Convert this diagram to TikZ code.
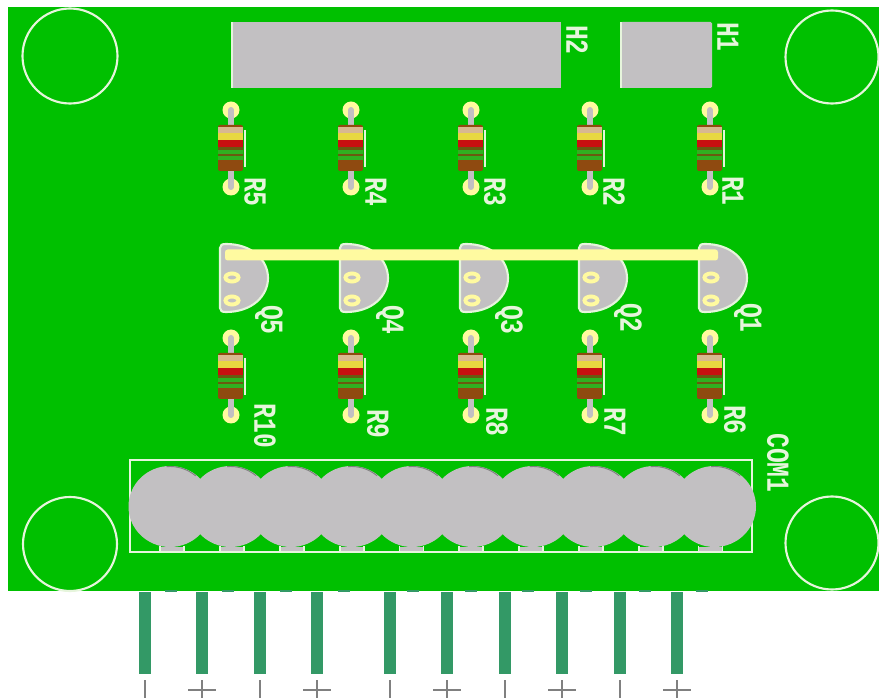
\documentclass[tikz,border=0pt]{standalone}
\usepackage{fontspec}
\setmainfont{Liberation Mono}

\definecolor{board}{HTML}{00C000}
\definecolor{silk}{HTML}{E6F5DC}
\definecolor{padgrey}{HTML}{C2C0C2}
\definecolor{padyellow}{HTML}{FFFAA0}
\definecolor{pingreen}{HTML}{339966}
\definecolor{bandtan}{HTML}{D8B890}
\definecolor{bandbrown}{HTML}{8F4A10}
\definecolor{bandred}{HTML}{C81010}
\definecolor{bandyellow}{HTML}{E8D840}
\definecolor{bandgreen}{HTML}{30B020}
\definecolor{bandolive}{HTML}{6A5A10}

\tikzset{
  silkline/.style={draw=silk,line width=1.6pt},
  silktext/.style={text=silk,font=\fontsize{18.5}{18.5}\selectfont\bfseries,rotate=-90,yscale=1.3,inner sep=0pt},
  greyblock/.style={fill=padgrey},
}

% one resistor, top pad at (0,0)
\newcommand{\resbody}{
  \fill[padyellow] (0,0) circle (8.5);
  \fill[padyellow] (0,77) circle (8.5);
  \draw[padgrey,line width=4.5pt,line cap=round] (0,0) -- (0,77);
  \fill[bandbrown,rounded corners=1.5pt] (-13,15) rectangle (12,61);
  \fill[bandtan] (-13,17) rectangle (12,23);
  \fill[bandyellow] (-13,23) rectangle (12,30);
  \fill[bandred] (-13,30) rectangle (12,37);
  \fill[bandolive] (-13,37) rectangle (12,40);
  \fill[bandgreen] (-13,40) rectangle (12,50);
  \fill[bandolive] (-13,44.5) rectangle (12,46);
  \draw[silk,line width=1pt] (14,20) -- (14,57);
}

\begin{document}
\begin{tikzpicture}[x=0.75pt,y=-0.75pt]
  \useasboundingbox (0,0) rectangle (879,698);
  \fill[white] (0,0) rectangle (879,698);

  \fill[board] (8,7) rectangle (879,591);

  % mounting holes
  \draw[silkline] (70,56) circle (47.5);
  \draw[silkline] (832,57) circle (46.5);
  \draw[silkline] (70,544) circle (47);
  \draw[silkline] (832,543) circle (46.5);

  % headers
  \fill[greyblock] (232,22) rectangle (561,88);
  \draw[silk,line width=1.2pt] (232,88) -- (232,22);
  \fill[greyblock,rounded corners=1pt] (621,22) rectangle (712,88);
  \draw[silkline] (621,22) -- (621,88);
  \node[silktext] (h2) at (577,40) {H2};
  \node[silktext] (h1) at (728,37) {H1};

  \foreach \x in {231,351,471,590,710}{
    \begin{scope}[shift={(\x,110)}]
      \resbody
    \end{scope}
    \begin{scope}[shift={(\x,338)}]
      \resbody
    \end{scope}
  }
  \node[silktext] (r5) at (255,192) {R5};
  \node[silktext] (r4) at (376,192) {R4};
  \node[silktext] (r3) at (495,192) {R3};
  \node[silktext] (r2) at (614,192) {R2};
  \node[silktext] (r1) at (733,191) {R1};
  \node[silktext] (r10) at (265,426) {R10};
  \node[silktext] (r9) at (378,424) {R9};
  \node[silktext] (r8) at (497,422) {R8};
  \node[silktext] (r7) at (615,422) {R7};
  \node[silktext] (r6) at (735,420) {R6};

  % transistors
  \foreach \x in {220,340,460,579,699}{
    \begin{scope}[shift={(\x,0)}]
      \draw[silkline,fill=padgrey] (0,248) .. controls (0,245) and (2,244) .. (6,244)
        .. controls (32,244) and (48,260) .. (48,278)
        .. controls (48,296) and (32,312) .. (6,312)
        .. controls (2,312) and (0,311) .. (0,308) -- cycle;
      \draw[padyellow,fill=padgrey,line width=3pt] (12,277.5) ellipse (6.5 and 4);
      \draw[padyellow,fill=padgrey,line width=3pt] (12,300.5) ellipse (6.5 and 4);
    \end{scope}
  }
  \fill[padyellow,rounded corners=2pt] (225,249.5) rectangle (718,260.5);
  \node[silktext] (q5) at (269,320) {Q5};
  \node[silktext] (q4) at (390,320) {Q4};
  \node[silktext] (q3) at (509,320) {Q3};
  \node[silktext] (q2) at (628,318) {Q2};
  \node[silktext] (q1) at (748,318) {Q1};

  % connector
  \foreach \x in {172,232,292,352,411.5,471,531,591,651,710.5}{
    \fill[padgrey] (\x-12,547) rectangle (\x+12,552);
    \draw[silk,line width=1.2pt] (\x-12,546) -- (\x-12,552);
    \draw[silk,line width=1.2pt] (\x+12,546) -- (\x+12,552);
  }
  \draw[silkline] (130,460) rectangle (752,552);
  \foreach \x in {170,230.5,291,351.5,412,472.5,533,593.5,654,714.5}{
    \fill[padgrey] (\x,506.5) ellipse (41.5 and 40.5);
  }
  \foreach \x in {170,230.5,291,351.5,412,472.5,533,593.5,654,714.5}{
    \draw[gray,line width=.7pt] (\x,506.5) +(265:40) arc (265:310:40);
  }
  \node[silktext] (com1) at (778,463) {COM1};

  % pins below the board
  \foreach \x in {171,228,286,344,413,471,528,586,645,702}{
    \fill[pingreen] (\x-6,590) rectangle (\x+6,592);
  }
  \foreach \x in {145,202,260,317,390,447,505,562,620,677}{
    \fill[pingreen] (\x-6,592) rectangle (\x+6,674);
    \draw[gray,line width=1pt] (\x,680) -- (\x,698);
  }
  \foreach \x in {202,317,447,562,677}{
    \draw[gray,line width=1pt] (\x-14,690) -- (\x+14,690);
  }
\end{tikzpicture}
\end{document}
